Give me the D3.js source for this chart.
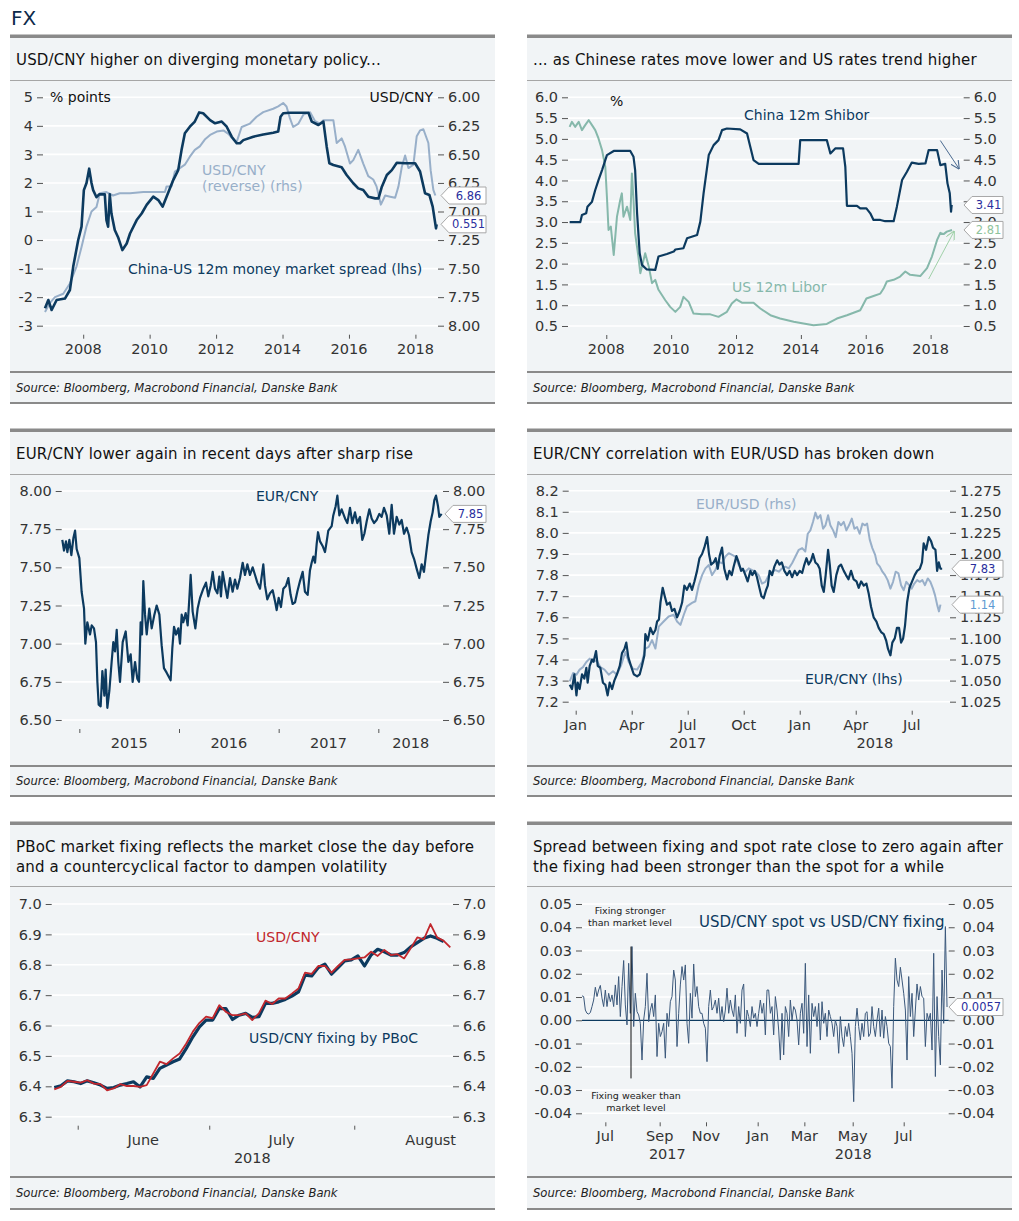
<!DOCTYPE html>
<html>
<head>
<meta charset="utf-8">
<script src="https://cdn.jsdelivr.net/npm/d3@7"></script>
<style>
  body { margin: 0; background: #fff; }
  svg { display: block; }
</style>
</head>
<body>
<div id="chart"></div>
<script>
// ---- data ----

// 1: China-US 12m spread (lhs, % points) and USD/CNY (rhs, reversed)
const spreadCnUs = [[2006.85,-2.39],[2006.95,-2.1],[2007.05,-2.45],[2007.20,-2.1],[2007.45,-2.05],[2007.60,-1.75],[2007.70,-0.93],[2007.85,0.0],[2007.95,0.47],[2008.02,1.75],[2008.10,2.0],[2008.18,2.5],[2008.25,2.0],[2008.30,1.75],[2008.40,1.5],[2008.48,1.6],[2008.65,1.6],[2008.70,0.7],[2008.75,0.47],[2008.80,1.6],[2008.85,0.93],[2008.95,0.35],[2009.05,0.1],[2009.18,-0.35],[2009.31,-0.12],[2009.41,0.23],[2009.61,0.7],[2009.76,0.93],[2009.91,1.23],[2010.11,1.52],[2010.26,1.4],[2010.39,1.17],[2010.51,1.52],[2010.71,2.1],[2010.86,2.45],[2010.96,3.15],[2011.06,3.74],[2011.21,3.97],[2011.36,4.15],[2011.49,4.47],[2011.61,4.44],[2011.82,4.2],[2011.97,4.09],[2012.17,4.15],[2012.32,3.97],[2012.47,3.62],[2012.62,3.39],[2012.72,3.39],[2012.82,3.5],[2013.12,3.62],[2013.42,3.7],[2013.72,3.76],[2013.87,3.8],[2013.94,4.32],[2014.02,4.44],[2014.22,4.46],[2014.53,4.46],[2014.78,4.46],[2014.88,4.15],[2015.08,4.03],[2015.23,4.15],[2015.33,3.27],[2015.41,2.69],[2015.53,2.63],[2015.78,2.55],[2015.93,2.28],[2016.13,1.99],[2016.28,1.81],[2016.43,1.75],[2016.58,1.52],[2016.79,1.46],[2016.89,1.46],[2016.99,1.87],[2017.14,2.28],[2017.29,2.45],[2017.44,2.71],[2017.69,2.69],[2017.84,2.69],[2017.99,2.69],[2018.14,2.4],[2018.29,1.64],[2018.42,1.58],[2018.52,1.17],[2018.62,0.41],[2018.64,0.551]];
const usdcnyLong = [[2006.85,7.88],[2007.00,7.80],[2007.15,7.75],[2007.40,7.72],[2007.60,7.63],[2007.80,7.48],[2007.95,7.31],[2008.10,7.13],[2008.25,7.00],[2008.40,6.96],[2008.50,6.84],[2008.70,6.83],[2008.90,6.86],[2009.10,6.84],[2009.41,6.84],[2009.81,6.83],[2010.21,6.83],[2010.46,6.83],[2010.51,6.78],[2010.66,6.78],[2010.76,6.65],[2010.91,6.62],[2011.06,6.59],[2011.21,6.52],[2011.36,6.46],[2011.51,6.43],[2011.66,6.37],[2011.82,6.33],[2012.02,6.30],[2012.22,6.29],[2012.37,6.32],[2012.52,6.37],[2012.62,6.39],[2012.77,6.26],[2013.02,6.23],[2013.22,6.17],[2013.42,6.13],[2013.72,6.10],[2013.87,6.08],[2014.02,6.05],[2014.12,6.08],[2014.22,6.18],[2014.32,6.26],[2014.48,6.23],[2014.63,6.15],[2014.83,6.13],[2014.98,6.21],[2015.13,6.23],[2015.23,6.20],[2015.53,6.20],[2015.63,6.40],[2015.78,6.36],[2015.88,6.43],[2016.03,6.58],[2016.13,6.55],[2016.28,6.46],[2016.43,6.58],[2016.58,6.69],[2016.73,6.72],[2016.83,6.78],[2016.96,6.94],[2017.09,6.86],[2017.24,6.87],[2017.39,6.88],[2017.49,6.78],[2017.59,6.61],[2017.69,6.51],[2017.79,6.62],[2017.94,6.59],[2018.04,6.34],[2018.14,6.29],[2018.24,6.28],[2018.39,6.40],[2018.46,6.64],[2018.54,6.81],[2018.60,6.86]];
const yearTicksLong = [2008, 2010, 2012, 2014, 2016, 2018];

// 2: China 12m Shibor and US 12m Libor (%)
const shibor = [[2006.87,3.0],[2007.20,3.0],[2007.25,3.17],[2007.38,3.21],[2007.42,3.37],[2007.56,3.49],[2007.66,3.77],[2007.76,4.01],[2007.87,4.25],[2008.02,4.61],[2008.23,4.71],[2008.74,4.71],[2008.84,4.57],[2008.89,4.25],[2008.95,3.21],[2009.03,2.25],[2009.10,1.97],[2009.25,1.86],[2009.51,1.85],[2009.61,2.17],[2009.87,2.23],[2010.08,2.29],[2010.13,2.34],[2010.38,2.37],[2010.49,2.61],[2010.80,2.69],[2010.90,3.01],[2011.00,3.69],[2011.16,4.61],[2011.31,4.85],[2011.46,4.97],[2011.57,5.21],[2011.72,5.25],[2012.13,5.23],[2012.34,5.13],[2012.44,4.81],[2012.54,4.49],[2012.70,4.40],[2013.93,4.40],[2013.98,4.97],[2014.80,4.97],[2014.91,4.65],[2015.06,4.77],[2015.30,4.77],[2015.37,4.33],[2015.42,3.39],[2015.73,3.39],[2015.83,3.33],[2016.02,3.33],[2016.14,3.21],[2016.24,3.05],[2016.45,3.05],[2016.60,3.02],[2016.86,3.02],[2016.96,3.37],[2017.12,4.01],[2017.27,4.21],[2017.42,4.43],[2017.63,4.40],[2017.84,4.41],[2017.94,4.73],[2018.20,4.73],[2018.30,4.37],[2018.45,4.40],[2018.52,3.93],[2018.59,3.69],[2018.63,3.25],[2018.65,3.41]];
const libor = [[2006.87,5.29],[2006.94,5.41],[2007.04,5.29],[2007.15,5.41],[2007.25,5.21],[2007.35,5.33],[2007.46,5.45],[2007.56,5.33],[2007.66,5.21],[2007.76,5.01],[2007.87,4.73],[2007.97,4.33],[2008.02,3.61],[2008.07,2.81],[2008.14,2.89],[2008.23,2.21],[2008.33,3.13],[2008.43,3.53],[2008.48,3.69],[2008.53,3.13],[2008.64,3.37],[2008.74,3.05],[2008.79,4.17],[2008.84,3.53],[2008.89,2.73],[2008.99,2.17],[2009.05,1.77],[2009.20,2.25],[2009.31,1.93],[2009.41,1.53],[2009.51,1.61],[2009.61,1.37],[2009.82,1.12],[2009.97,0.96],[2010.13,0.84],[2010.28,0.96],[2010.38,1.20],[2010.54,1.08],[2010.69,0.80],[2010.95,0.78],[2011.21,0.78],[2011.46,0.72],[2011.72,0.84],[2011.87,1.04],[2012.01,1.14],[2012.18,1.06],[2012.54,1.06],[2012.75,0.92],[2013.06,0.76],[2013.36,0.68],[2013.78,0.60],[2014.08,0.56],[2014.39,0.52],[2014.80,0.55],[2015.11,0.68],[2015.42,0.76],[2015.83,0.88],[2016.02,1.16],[2016.24,1.22],[2016.45,1.28],[2016.55,1.40],[2016.65,1.57],[2016.86,1.61],[2017.06,1.69],[2017.22,1.81],[2017.37,1.73],[2017.68,1.70],[2017.89,1.89],[2018.04,2.17],[2018.20,2.57],[2018.30,2.74],[2018.40,2.71],[2018.50,2.77],[2018.66,2.81]];

// 3: EUR/CNY since late 2014
const eurcnyLong = [[2014.829,7.68],[2014.846,7.61],[2014.866,7.67],[2014.880,7.60],[2014.900,7.68],[2014.920,7.58],[2014.940,7.69],[2014.957,7.74],[2014.973,7.62],[2015.000,7.56],[2015.023,7.34],[2015.047,7.23],[2015.060,7.00],[2015.080,7.14],[2015.107,7.06],[2015.124,7.12],[2015.147,7.10],[2015.167,7.01],[2015.181,6.75],[2015.194,6.60],[2015.214,6.59],[2015.231,6.82],[2015.251,6.66],[2015.264,6.83],[2015.281,6.58],[2015.301,6.69],[2015.324,6.88],[2015.341,7.01],[2015.358,6.95],[2015.375,7.09],[2015.391,6.88],[2015.408,6.75],[2015.435,7.01],[2015.465,7.08],[2015.492,6.88],[2015.515,6.93],[2015.535,6.75],[2015.559,6.88],[2015.582,6.77],[2015.599,6.75],[2015.615,7.14],[2015.629,7.06],[2015.642,7.41],[2015.659,7.19],[2015.676,7.06],[2015.702,7.23],[2015.726,7.10],[2015.753,7.19],[2015.776,7.25],[2015.803,7.19],[2015.826,6.99],[2015.849,6.84],[2015.876,6.81],[2015.916,6.76],[2015.933,6.97],[2015.950,7.11],[2015.970,7.06],[2015.993,7.10],[2016.010,7.00],[2016.027,7.19],[2016.043,7.14],[2016.067,7.20],[2016.087,7.12],[2016.104,7.30],[2016.117,7.45],[2016.137,7.21],[2016.164,7.10],[2016.187,7.23],[2016.211,7.30],[2016.244,7.36],[2016.271,7.40],[2016.294,7.31],[2016.318,7.38],[2016.338,7.47],[2016.361,7.36],[2016.385,7.33],[2016.405,7.44],[2016.421,7.31],[2016.438,7.47],[2016.462,7.38],[2016.485,7.30],[2016.512,7.43],[2016.538,7.34],[2016.562,7.42],[2016.585,7.36],[2016.612,7.43],[2016.639,7.53],[2016.662,7.45],[2016.686,7.52],[2016.712,7.45],[2016.739,7.50],[2016.763,7.45],[2016.786,7.40],[2016.813,7.36],[2016.846,7.52],[2016.863,7.38],[2016.886,7.29],[2016.913,7.33],[2016.940,7.35],[2016.963,7.28],[2016.980,7.22],[2017.000,7.30],[2017.023,7.24],[2017.047,7.36],[2017.074,7.38],[2017.097,7.43],[2017.120,7.32],[2017.140,7.26],[2017.164,7.27],[2017.187,7.34],[2017.214,7.41],[2017.241,7.47],[2017.264,7.34],[2017.291,7.32],[2017.314,7.48],[2017.331,7.53],[2017.348,7.57],[2017.365,7.53],[2017.381,7.65],[2017.395,7.73],[2017.415,7.67],[2017.441,7.64],[2017.465,7.60],[2017.482,7.67],[2017.498,7.74],[2017.532,7.77],[2017.548,7.84],[2017.572,7.90],[2017.589,7.97],[2017.609,7.84],[2017.632,7.88],[2017.666,7.82],[2017.689,7.79],[2017.716,7.89],[2017.739,7.79],[2017.766,7.86],[2017.789,7.79],[2017.816,7.83],[2017.839,7.68],[2017.860,7.72],[2017.883,7.80],[2017.910,7.88],[2017.933,7.82],[2017.957,7.79],[2017.983,7.81],[2018.010,7.85],[2018.033,7.83],[2018.057,7.89],[2018.084,7.84],[2018.110,7.72],[2018.134,7.91],[2018.157,7.72],[2018.184,7.83],[2018.211,7.78],[2018.234,7.81],[2018.258,7.72],[2018.284,7.76],[2018.308,7.71],[2018.334,7.60],[2018.361,7.55],[2018.385,7.49],[2018.411,7.43],[2018.435,7.52],[2018.458,7.47],[2018.478,7.58],[2018.502,7.71],[2018.525,7.80],[2018.545,7.86],[2018.562,7.94],[2018.579,7.97],[2018.599,7.90],[2018.612,7.83],[2018.635,7.85]];
const yearTicks3 = [2015, 2016, 2017, 2018];

// 4: EUR/CNY (lhs) and EUR/USD (rhs); x = months since Jan 2017
const eurcnyShort = [[-0.32,7.28],[-0.20,7.26],[-0.07,7.33],[0.04,7.23],[0.11,7.29],[0.21,7.26],[0.34,7.33],[0.46,7.31],[0.57,7.36],[0.64,7.29],[0.75,7.37],[0.88,7.40],[0.96,7.39],[1.09,7.44],[1.18,7.37],[1.32,7.36],[1.46,7.29],[1.59,7.28],[1.71,7.23],[1.82,7.29],[1.95,7.26],[2.07,7.30],[2.21,7.33],[2.36,7.37],[2.48,7.43],[2.61,7.45],[2.71,7.48],[2.82,7.41],[2.96,7.37],[3.11,7.33],[3.29,7.32],[3.43,7.33],[3.55,7.37],[3.68,7.42],[3.73,7.52],[3.86,7.49],[4.00,7.55],[4.14,7.52],[4.27,7.54],[4.36,7.58],[4.46,7.59],[4.54,7.67],[4.66,7.74],[4.77,7.70],[4.89,7.66],[5.04,7.67],[5.16,7.63],[5.29,7.64],[5.43,7.60],[5.57,7.63],[5.70,7.67],[5.82,7.75],[5.96,7.73],[6.11,7.76],[6.23,7.73],[6.36,7.77],[6.50,7.82],[6.63,7.88],[6.77,7.90],[6.89,7.93],[7.04,7.98],[7.14,7.90],[7.25,7.85],[7.39,7.86],[7.50,7.88],[7.61,7.83],[7.71,7.89],[7.84,7.93],[7.96,7.83],[8.11,7.78],[8.23,7.82],[8.36,7.80],[8.46,7.84],[8.61,7.89],[8.73,7.86],[8.86,7.82],[8.96,7.83],[9.09,7.80],[9.21,7.77],[9.36,7.82],[9.46,7.80],[9.59,7.82],[9.71,7.79],[9.84,7.74],[9.95,7.70],[10.07,7.69],[10.20,7.73],[10.29,7.75],[10.39,7.82],[10.52,7.80],[10.64,7.84],[10.79,7.87],[10.91,7.85],[11.04,7.86],[11.18,7.82],[11.32,7.80],[11.46,7.82],[11.59,7.79],[11.73,7.82],[11.86,7.80],[12.00,7.82],[12.13,7.81],[12.25,7.85],[12.36,7.88],[12.48,7.85],[12.61,7.87],[12.71,7.90],[12.84,7.86],[12.96,7.85],[13.07,7.83],[13.18,7.75],[13.29,7.72],[13.39,7.80],[13.52,7.92],[13.61,7.85],[13.71,7.75],[13.82,7.72],[13.96,7.80],[14.09,7.84],[14.21,7.85],[14.36,7.82],[14.48,7.80],[14.61,7.78],[14.75,7.82],[14.89,7.78],[15.04,7.77],[15.16,7.74],[15.29,7.77],[15.43,7.75],[15.57,7.76],[15.70,7.71],[15.82,7.65],[15.96,7.60],[16.11,7.58],[16.23,7.55],[16.36,7.53],[16.50,7.52],[16.63,7.49],[16.73,7.45],[16.86,7.42],[16.96,7.48],[17.09,7.50],[17.21,7.55],[17.32,7.55],[17.43,7.48],[17.54,7.50],[17.64,7.56],[17.75,7.67],[17.88,7.74],[18.02,7.77],[18.16,7.80],[18.29,7.82],[18.43,7.83],[18.55,7.86],[18.64,7.95],[18.77,7.92],[18.91,7.98],[19.04,7.96],[19.14,7.93],[19.27,7.92],[19.36,7.82],[19.45,7.86],[19.54,7.83],[19.63,7.83]];
const eurusd = [[-0.32,1.049],[-0.14,1.059],[0.04,1.057],[0.21,1.063],[0.39,1.066],[0.57,1.072],[0.75,1.076],[0.93,1.072],[1.11,1.074],[1.32,1.066],[1.54,1.063],[1.77,1.057],[2.00,1.061],[2.21,1.057],[2.43,1.068],[2.66,1.084],[2.84,1.072],[3.07,1.064],[3.29,1.063],[3.55,1.072],[3.73,1.088],[3.91,1.090],[4.09,1.098],[4.27,1.088],[4.45,1.114],[4.71,1.120],[4.98,1.126],[5.25,1.128],[5.43,1.120],[5.61,1.116],[5.79,1.128],[5.96,1.138],[6.23,1.142],[6.41,1.144],[6.59,1.163],[6.77,1.175],[6.95,1.183],[7.13,1.187],[7.30,1.175],[7.48,1.181],[7.66,1.191],[7.84,1.189],[8.02,1.197],[8.20,1.201],[8.38,1.199],[8.55,1.197],[8.73,1.187],[8.91,1.181],[9.09,1.179],[9.27,1.183],[9.45,1.181],[9.63,1.179],[9.80,1.175],[9.98,1.165],[10.16,1.167],[10.34,1.175],[10.52,1.179],[10.70,1.181],[10.88,1.179],[11.05,1.183],[11.23,1.185],[11.41,1.183],[11.59,1.189],[11.77,1.197],[11.95,1.205],[12.13,1.207],[12.30,1.203],[12.43,1.224],[12.57,1.228],[12.71,1.238],[12.84,1.249],[12.96,1.242],[13.11,1.246],[13.25,1.230],[13.38,1.234],[13.52,1.246],[13.64,1.234],[13.79,1.228],[13.93,1.220],[14.07,1.238],[14.21,1.234],[14.36,1.238],[14.50,1.228],[14.64,1.234],[14.79,1.242],[14.93,1.230],[15.07,1.232],[15.21,1.224],[15.36,1.236],[15.50,1.234],[15.61,1.236],[15.75,1.217],[15.89,1.207],[16.04,1.199],[16.14,1.189],[16.29,1.185],[16.43,1.179],[16.57,1.175],[16.71,1.169],[16.86,1.159],[17.00,1.167],[17.14,1.179],[17.29,1.177],[17.43,1.163],[17.57,1.157],[17.71,1.167],[17.86,1.163],[18.00,1.159],[18.14,1.165],[18.29,1.169],[18.43,1.167],[18.57,1.169],[18.71,1.163],[18.86,1.171],[19.00,1.167],[19.14,1.159],[19.25,1.151],[19.36,1.140],[19.46,1.132],[19.54,1.14]];
const monthTicks4 = [0, 3, 6, 9, 12, 15, 18];
const monthNames4 = ["Jan", "Apr", "Jul", "Oct", "Jan", "Apr", "Jul"];

// 5: USD/CNY spot and PBoC fixing, one value per business day from late May 2018
const fixing = [6.396,6.402,6.418,6.415,6.409,6.418,6.412,6.404,6.393,6.396,6.404,6.409,6.415,6.398,6.431,6.426,6.459,6.470,6.481,6.490,6.525,6.563,6.596,6.618,6.618,6.656,6.656,6.620,6.634,6.640,6.627,6.629,6.673,6.673,6.678,6.686,6.697,6.711,6.766,6.763,6.791,6.802,6.769,6.791,6.813,6.816,6.829,6.796,6.832,6.851,6.843,6.832,6.832,6.840,6.859,6.873,6.887,6.895,6.887,6.876];
const spot = [6.390,6.398,6.418,6.415,6.412,6.420,6.409,6.407,6.387,6.393,6.407,6.401,6.401,6.398,6.404,6.442,6.481,6.473,6.492,6.508,6.541,6.580,6.609,6.629,6.624,6.667,6.645,6.634,6.634,6.640,6.618,6.640,6.682,6.671,6.689,6.689,6.705,6.722,6.774,6.770,6.796,6.796,6.774,6.796,6.816,6.818,6.821,6.824,6.843,6.829,6.849,6.832,6.835,6.821,6.854,6.890,6.884,6.934,6.890,6.879,6.857];
const monthTicks5 = [3.55, 23.48, 45.45];      // month starts, in business days
const monthMids5 = [13.48, 34.45, 57.03];
const monthNames5 = ["June", "July", "August"];

// 6: USD/CNY spot minus fixing, sampled along a business-day axis from June 2017
const spotFixSpread = [0.0105,0.0102,0.0044,0.0030,0.0027,0.0033,0.0059,0.0087,0.0142,0.0102,
  0.0130,0.0150,0.0095,0.0059,0.0130,0.0059,0.0116,0.0080,0.0109,0.0059,
  0.0152,0.0066,0.0188,0.0016,0.0145,0.0257,0.0066,-0.0020,0.0245,0.0030,
  0.0317,-0.0027,0.0116,0.0037,0.0023,-0.0013,-0.0171,0.0001,0.0059,0.0202,
  -0.0006,0.0044,0.0073,0.0016,0.0109,-0.0156,-0.0013,-0.0070,-0.0049,-0.0013,
  -0.0163,0.0030,-0.0027,0.0080,0.0102,0.0216,0.0173,-0.0113,0.0030,0.0152,
  0.0231,0.0173,0.0238,-0.0013,-0.0099,0.0116,0.0009,0.0242,0.0102,0.0145,
  0.0059,0.0030,0.0030,-0.0013,-0.0034,-0.0178,0.0059,0.0130,0.0044,0.0059,
  0.0087,0.0030,0.0095,0.0001,0.0059,-0.0006,0.0044,0.0138,0.0030,0.0087,
  0.0044,0.0016,0.0109,-0.0056,0.0059,-0.0013,0.0130,0.0156,-0.0070,0.0044,
  0.0016,-0.0027,0.0059,0.0009,0.0030,-0.0027,0.0030,0.0087,0.0030,0.0073,
  -0.0063,0.0130,0.0130,0.0030,0.0059,-0.0063,0.0102,0.0044,-0.0042,-0.0171,
  0.0030,-0.0149,0.0059,0.0030,-0.0070,0.0087,0.0001,0.0059,0.0044,0.0001,
  -0.0106,0.0030,0.0073,-0.0056,0.0245,-0.0113,0.0109,-0.0142,0.0073,0.0016,
  0.0059,-0.0027,0.0073,-0.0085,0.0080,-0.0013,0.0030,-0.0070,0.0044,0.0016,
  -0.0013,-0.0070,0.0001,-0.0027,-0.0142,0.0016,-0.0070,-0.0113,-0.0027,-0.0070,
  -0.0013,-0.0070,-0.0142,-0.0350,-0.0027,0.0052,-0.0027,-0.0085,-0.0013,-0.0070,
  0.0030,0.0037,-0.0070,-0.0056,0.0059,-0.0027,-0.0070,0.0001,0.0052,-0.0070,
  0.0044,-0.0077,0.0016,-0.0027,-0.0099,-0.0113,-0.0292,0.0059,0.0267,0.0173,
  0.0145,0.0228,0.0173,0.0116,0.0044,-0.0171,0.0188,0.0016,0.0116,-0.0070,
  0.0044,0.0156,0.0087,0.0145,0.0102,0.0095,-0.0113,0.0030,0.0001,0.0030,
  -0.0128,0.0288,-0.0242,0.0102,-0.0070,-0.0192,0.0216,-0.0013,0.0403,0.0057];
const monthTicks6 = [14, 46.6, 74.4, 105.4, 133.4, 162.4, 193];
const monthNames6 = ["Jul", "Sep", "Nov", "Jan", "Mar", "May", "Jul"];

const titles = [
  ["USD/CNY higher on diverging monetary policy..."],
  ["... as Chinese rates move lower and US rates trend higher"],
  ["EUR/CNY lower again in recent days after sharp rise"],
  ["EUR/CNY correlation with EUR/USD has broken down"],
  ["PBoC market fixing reflects the market close the day before", "and a countercyclical factor to dampen volatility"],
  ["Spread between fixing and spot rate  close to zero again after", "the fixing had been stronger than the spot for a while"]
];
const source = "Source: Bloomberg, Macrobond Financial, Danske Bank";

// ---- drawing ----
const FONT = "DejaVu Sans, sans-serif";
const BG = "#f1f4f6";
const NAVY = "#0c3a5f", LIGHT = "#98afc9", TEAL = "#86b8ab", RED = "#c1272d", TAGBLUE = "#2a2f9e";

const svg = d3.select("#chart").append("svg").attr("width", 1019).attr("height", 1221);

svg.append("text").attr("x", 11).attr("y", 25).attr("font-family", FONT)
  .attr("font-size", 20).attr("fill", "#0c2a4a").text("FX");

const cols = [[10, 495], [527, 1012]];
const rows = [
  { top: 36, sep: 80, src: 372, bottom: 403 },
  { top: 430, sep: 474, src: 766, bottom: 796 },
  { top: 823, sep: 886, src: 1177, bottom: 1209 }
];

function frame(i) {
  const [x0, x1] = cols[i % 2], r = rows[Math.floor(i / 2)];
  const g = svg.append("g");
  g.append("rect").attr("x", x0).attr("y", r.top).attr("width", x1 - x0).attr("height", r.bottom - r.top).attr("fill", BG);
  g.append("rect").attr("x", x0).attr("y", r.top - 1.5).attr("width", x1 - x0).attr("height", 3.5).attr("fill", "#8a8a8a");
  g.append("rect").attr("x", x0).attr("y", r.sep).attr("width", x1 - x0).attr("height", 1).attr("fill", "#a6a6a6");
  g.append("rect").attr("x", x0).attr("y", r.src - 1).attr("width", x1 - x0).attr("height", 2).attr("fill", "#8a8a8a");
  g.append("rect").attr("x", x0).attr("y", r.bottom - 1).attr("width", x1 - x0).attr("height", 2).attr("fill", "#8a8a8a");
  titles[i].forEach((t, k) => {
    g.append("text").attr("x", x0 + 6).attr("y", r.top + 29 + k * 20)
      .attr("font-family", FONT).attr("font-size", 15).attr("letter-spacing", 0.15)
      .attr("fill", "#111").text(t);
  });
  g.append("text").attr("x", x0 + 6).attr("y", (r.src + r.bottom) / 2 + 4)
    .attr("font-family", FONT).attr("font-size", 11.6).attr("font-style", "italic").attr("fill", "#222").text(source);
}
d3.range(6).forEach(frame);

function axes(c) {
  const g = svg.append("g");
  g.append("g").selectAll("line").data(c.ticksL).join("line")
    .attr("x1", c.left).attr("x2", c.right)
    .attr("y1", d => c.yL(d)).attr("y2", d => c.yL(d))
    .attr("stroke", "#fff").attr("stroke-width", 1.6);
  const gl = g.append("g").attr("transform", `translate(${c.left},0)`)
    .call(d3.axisLeft(c.yL).tickValues(c.ticksL).tickFormat(c.fmtL).tickSize(6).tickPadding(4));
  const gr = g.append("g").attr("transform", `translate(${c.right},0)`)
    .call(d3.axisRight(c.yR).tickValues(c.ticksR).tickFormat(c.fmtR).tickSize(6).tickPadding(4));
  const gx = g.append("g").attr("transform", `translate(0,${c.bottom + 9})`)
    .call(d3.axisBottom(c.x).tickValues(c.xTicks).tickFormat("").tickSize(4));
  [gl, gr, gx].forEach(a => {
    a.select(".domain").remove();
    a.attr("font-family", FONT).attr("font-size", 14.5).attr("color", "#555");
    a.selectAll("text").attr("fill", "#333");
  });
  if (c.rightAlign) gr.selectAll("text").attr("text-anchor", "end").attr("x", c.rightAlign);
  g.selectAll(null).data(c.xLabels).join("text")
    .attr("x", d => c.x(d[0])).attr("y", c.bottom + 28).attr("text-anchor", "middle")
    .attr("font-family", FONT).attr("font-size", 14.5).attr("fill", "#333").text(d => d[1]);
  g.selectAll(null).data(c.yearLabels || []).join("text")
    .attr("x", d => c.x(d[0])).attr("y", c.bottom + 46).attr("text-anchor", "middle")
    .attr("font-family", FONT).attr("font-size", 14.5).attr("fill", "#333").text(d => d[1]);
}

function series(data, x, y, color, width) {
  svg.append("path").datum(data)
    .attr("d", d3.line().x(d => x(d[0])).y(d => y(d[1])))
    .attr("fill", "none").attr("stroke", color).attr("stroke-width", width)
    .attr("stroke-linejoin", "round");
}

function label(x, y, txt, color, size, anchor) {
  svg.append("text").attr("x", x).attr("y", y).attr("font-family", FONT)
    .attr("font-size", size || 14).attr("fill", color).attr("text-anchor", anchor || "start").text(txt);
}

function tag(xTip, y, txt, color, boxRight) {
  const bx = xTip + 8, h = 8.5;
  svg.append("path").attr("d", `M${xTip},${y}L${bx},${y - h}H${boxRight}V${y + h}H${bx}Z`)
    .attr("fill", "#fff").attr("stroke", "#a8a8a8").attr("stroke-width", 1);
  svg.append("text").attr("x", (bx + boxRight) / 2 + 1).attr("y", y + 4).attr("text-anchor", "middle")
    .attr("font-family", FONT).attr("font-size", 11.5).attr("fill", color).text(txt);
}

const last = a => a[a.length - 1];
const fix = n => d => d.toFixed(n);

// --- panel 1 ---
{
  const x = d3.scaleLinear().domain([2006.79, 2018.68]).range([43, 438]);
  const yL = d3.scaleLinear().domain([-3, 5]).range([325.7, 97.3]);
  const yR = d3.scaleLinear().domain([6, 8]).range([97.3, 325.7]);
  axes({ left: 43, right: 438, bottom: 325.7, x, yL, yR,
    ticksL: d3.range(-3, 6), ticksR: d3.range(6, 8.01, 0.25), fmtL: d => String(d), fmtR: fix(2),
    xTicks: yearTicksLong, xLabels: yearTicksLong.map(d => [d, String(d)]) });
  series(usdcnyLong, x, yR, LIGHT, 2);
  series(spreadCnUs, x, yL, NAVY, 2.6);
  label(50, 102, "% points", "#111");
  label(433, 102, "USD/CNY", "#111", 14, "end");
  label(202, 175, "USD/CNY", LIGHT);
  label(202, 191, "(reverse) (rhs)", LIGHT);
  label(128, 274, "China-US 12m money market spread (lhs)", NAVY);
  tag(441, yR(last(usdcnyLong)[1]), last(usdcnyLong)[1].toFixed(2), TAGBLUE, 486);
  tag(441, yL(last(spreadCnUs)[1]), last(spreadCnUs)[1].toFixed(3), TAGBLUE, 486);
}

// --- panel 2 ---
{
  const x = d3.scaleLinear().domain([2006.82, 2019.02]).range([568, 963.7]);
  const y = d3.scaleLinear().domain([0.5, 6]).range([326, 97.3]);
  const t = d3.range(0.5, 6.01, 0.5);
  axes({ left: 568, right: 963.7, bottom: 326, x, yL: y, yR: y,
    ticksL: t, ticksR: t, fmtL: fix(1), fmtR: fix(1),
    xTicks: yearTicksLong, xLabels: yearTicksLong.map(d => [d, String(d)]) });
  series(libor, x, y, TEAL, 2);
  series(shibor, x, y, NAVY, 2.2);
  label(610, 106, "%", "#111");
  label(744, 120, "China 12m Shibor", NAVY);
  label(732, 292, "US 12m Libor", TEAL);
  const defs = svg.append("defs");
  [["arrNavy", "#4a6a90"], ["arrGreen", "#9fd0a8"]].forEach(([id, col]) => {
    defs.append("marker").attr("id", id).attr("viewBox", "0 0 10 10").attr("refX", 9).attr("refY", 5)
      .attr("markerWidth", 9).attr("markerHeight", 9).attr("orient", "auto")
      .append("path").attr("d", "M0,0L10,5L0,10").attr("fill", "none").attr("stroke", col).attr("stroke-width", 1.2);
  });
  svg.append("line").attr("x1", x(2018.30)).attr("y1", y(4.96)).attr("x2", x(2018.87)).attr("y2", y(4.29))
    .attr("stroke", "#4a6a90").attr("stroke-width", 1).attr("marker-end", "url(#arrNavy)");
  svg.append("line").attr("x1", x(2017.94)).attr("y1", y(1.63)).attr("x2", x(2018.72)).attr("y2", y(2.77))
    .attr("stroke", "#9fd0a8").attr("stroke-width", 1).attr("marker-end", "url(#arrGreen)");
  tag(964, y(last(shibor)[1]), last(shibor)[1].toFixed(2), TAGBLUE, 1003);
  tag(964, y(last(libor)[1]), last(libor)[1].toFixed(2), "#8fc39c", 1003);
}

// --- panel 3 ---
{
  const dom = [2014.823, 2018.649];
  const x = d3.scaleLinear().domain(dom).range([61.7, 443]);
  const y = d3.scaleLinear().domain([6.5, 8]).range([720, 491]);
  const t = d3.range(6.5, 8.01, 0.25);
  const mids = yearTicks3.map(yr => [(Math.max(yr, dom[0]) + Math.min(yr + 1, dom[1])) / 2, String(yr)]);
  axes({ left: 61.7, right: 443, bottom: 720, x, yL: y, yR: y,
    ticksL: t, ticksR: t, fmtL: fix(2), fmtR: fix(2), xTicks: yearTicks3, xLabels: mids });
  series(eurcnyLong, x, y, NAVY, 2.2);
  label(256, 501, "EUR/CNY", NAVY);
  tag(445, y(last(eurcnyLong)[1]), last(eurcnyLong)[1].toFixed(2), TAGBLUE, 486);
}

// --- panel 4 ---
{
  const dom = [-0.375, 20.05];
  const x = d3.scaleLinear().domain(dom).range([568.7, 950]);
  const yL = d3.scaleLinear().domain([7.2, 8.2]).range([701.7, 490.7]);
  const yR = d3.scaleLinear().domain([1.025, 1.275]).range([701.7, 490.7]);
  axes({ left: 568.7, right: 950, bottom: 701.7, x, yL, yR,
    ticksL: d3.range(7.2, 8.21, 0.1), ticksR: d3.range(1.025, 1.276, 0.025), fmtL: fix(1), fmtR: fix(3),
    xTicks: monthTicks4, xLabels: monthTicks4.map((m, i) => [m, monthNames4[i]]),
    yearLabels: [[6, "2017"], [(12 + dom[1]) / 2, "2018"]] });
  series(eurusd, x, yR, LIGHT, 2);
  series(eurcnyShort, x, yL, NAVY, 2.2);
  label(696, 509, "EUR/USD (rhs)", LIGHT);
  label(805, 684, "EUR/CNY (lhs)", NAVY);
  tag(952, yL(last(eurcnyShort)[1]), last(eurcnyShort)[1].toFixed(2), TAGBLUE, 1003);
  tag(952, yR(last(eurusd)[1]), last(eurusd)[1].toFixed(2), "#5f9bd3", 1003);
}

// --- panel 5 ---
{
  const dom = [-0.39, 60.41];
  const x = d3.scaleLinear().domain(dom).range([51.7, 453]);
  const y = d3.scaleLinear().domain([6.3, 7.0]).range([1116.7, 904]);
  const t = d3.range(6.3, 7.01, 0.1);
  axes({ left: 51.7, right: 453, bottom: 1116.7, x, yL: y, yR: y,
    ticksL: t, ticksR: t, fmtL: fix(1), fmtR: fix(1),
    xTicks: monthTicks5, xLabels: monthMids5.map((m, i) => [m, monthNames5[i]]),
    yearLabels: [[(dom[0] + dom[1]) / 2, "2018"]] });
  series(fixing.map((v, i) => [i, v]), x, y, NAVY, 3.2);
  series(spot.map((v, i) => [i, v]), x, y, RED, 1.8);
  label(256, 942, "USD/CNY", RED);
  label(249, 1043, "USD/CNY fixing by PBoC", NAVY);
}

// --- panel 6 ---
{
  const dom = [-3, 220];
  const x = d3.scaleLinear().domain(dom).range([577, 948.7]);
  const y = d3.scaleLinear().domain([-0.04, 0.05]).range([1113.3, 904]);
  const t = d3.range(-0.04, 0.0501, 0.01);
  axes({ left: 582, right: 948.7, bottom: 1113.3, x, yL: y, yR: y,
    ticksL: t, ticksR: t, fmtL: fix(2), fmtR: fix(2), rightAlign: 46,
    xTicks: monthTicks6, xLabels: monthTicks6.map((m, i) => [m, monthNames6[i]]),
    yearLabels: [[(dom[0] + monthTicks6[3]) / 2, "2017"], [(monthTicks6[3] + dom[1]) / 2, "2018"]] });
  svg.append("line").attr("x1", 582).attr("x2", 948.7).attr("y1", y(0)).attr("y2", y(0))
    .attr("stroke", NAVY).attr("stroke-width", 1.3);
  series(spotFixSpread.map((v, i) => [i, v]), x, y, "#3b587b", 1);
  svg.append("line").attr("x1", x(29.4)).attr("x2", x(29.4)).attr("y1", y(0.0317)).attr("y2", y(-0.025))
    .attr("stroke", "#111").attr("stroke-width", 1);
  label(630, 914, "Fixing stronger", "#222", 9.5, "middle");
  label(630, 926, "than market level", "#222", 9.5, "middle");
  label(636, 1099, "Fixing weaker than", "#222", 9.5, "middle");
  label(636, 1111, "market level", "#222", 9.5, "middle");
  label(699, 927, "USD/CNY spot vs USD/CNY fixing", NAVY, 15);
  tag(949, y(last(spotFixSpread)), last(spotFixSpread).toFixed(4), TAGBLUE, 1003);
}
</script>
</body>
</html>
